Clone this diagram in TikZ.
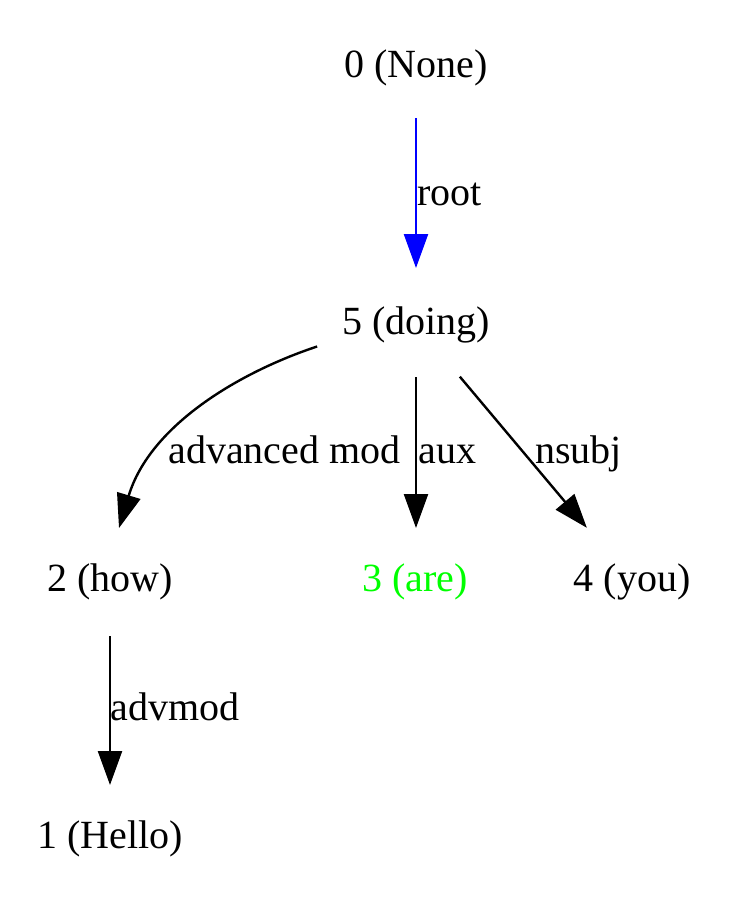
\documentclass[tikz,border=0pt]{standalone}
\usepackage{fontspec}
\setmainfont{Liberation Serif}
\usetikzlibrary{arrows.meta,calc}
\definecolor{gvblue}{RGB}{0,0,255}
\definecolor{gvgreen}{RGB}{0,255,0}
\begin{document}
\begin{tikzpicture}[x=0.5pt,y=-0.5pt,
  word/.style={anchor=base,inner sep=0pt,outer sep=0pt,text height=14pt,text depth=4.5pt,font=\fontsize{20}{24}\selectfont},
  lbl/.style={anchor=base west,inner sep=0pt,font=\fontsize{20}{24}\selectfont},
  edge/.style={line width=1.2pt,-{Triangle[length=17pt,width=12pt]}}]
\useasboundingbox (0,0) rectangle (730,906);
\node[word] (n0) at (416,77) {0 (None)};
\node[word] (n5) at (416,334) {5 (doing)};
\node[word] (n2) at (110,591) {2 (how)};
\node[word,text=gvgreen] (n3) at (415,591) {3 (are)};
\node[word] (n4) at (632,591) {4 (you)};
\node[word] (n1) at (110,848) {1 (Hello)};
% edges
\draw[edge,gvblue,shorten <=16pt,shorten >=19pt] (n0.south) -- (n5.north);
\draw[edge,shorten <=17pt,shorten >=17.5pt] (n5.south) -- (n5.south |- n3.north);
\draw[edge,shorten <=22pt,shorten >=23pt] (n5) -- (n4);
\draw[edge,shorten <=18pt,shorten >=17.5pt] (n2.south) -- (n1.north);
\draw[edge] ($(n5.west)+(-25,22)$) .. controls (240,372) and (150,425) .. ($(n2.north)+(9,-35)$);
% labels
\node[lbl] (lroot) at (417,205) {root};
\node[lbl] (ladv) at (168,463) {advanced mod};
\node[lbl] (laux) at (418,463) {aux};
\node[lbl] (lnsubj) at (535,463) {nsubj};
\node[lbl] (ladvmod) at (110,720) {advmod};
\end{tikzpicture}
\end{document}
